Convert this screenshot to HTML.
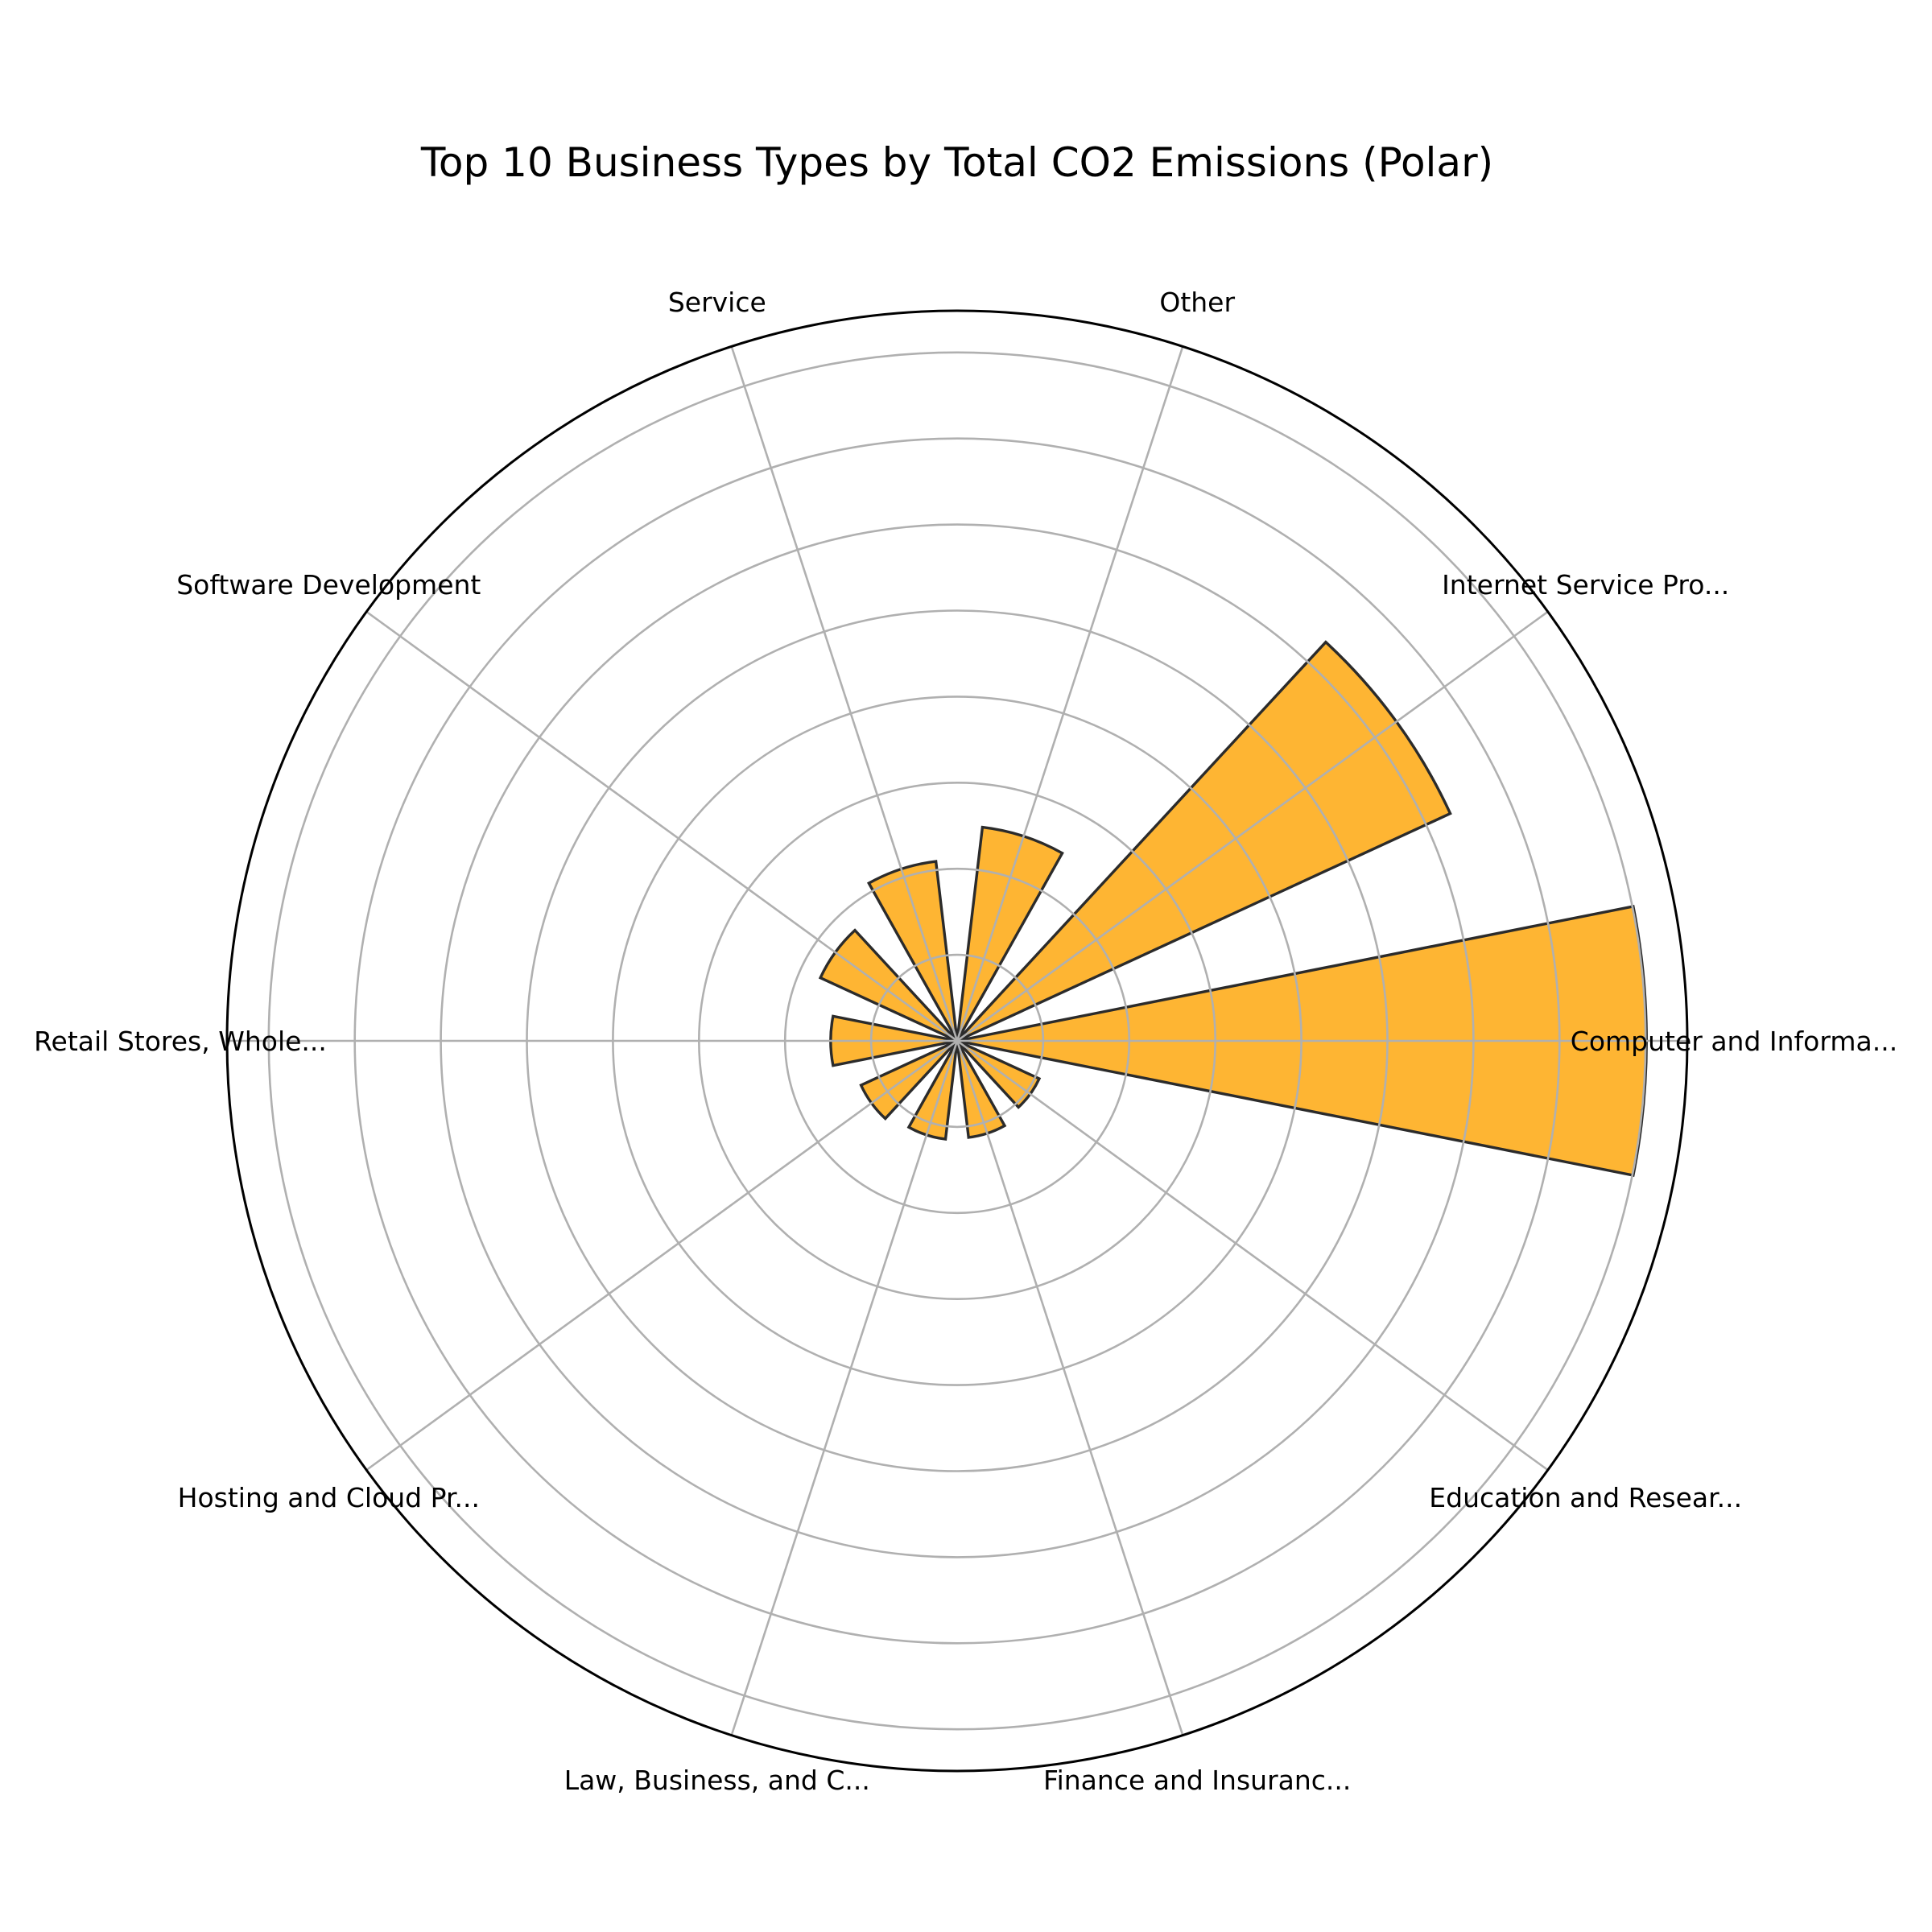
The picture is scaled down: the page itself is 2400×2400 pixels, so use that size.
<!DOCTYPE html>
<html><head><meta charset="utf-8"><style>
html,body{margin:0;padding:0;background:#fff;}
svg{display:block;font-family:"DejaVu Sans","Liberation Sans",sans-serif;}
</style></head><body>
<svg id="chart" width="2400" height="2400" viewBox="0 0 2400 2400" xmlns="http://www.w3.org/2000/svg">
<rect width="2400" height="2400" fill="#fff"/>
<text x="1189" y="219" font-size="50" text-anchor="middle" fill="#000">Top 10 Business Types by Total CO2 Emissions (Polar)</text>
<g id="bars"></g><g id="grid"></g><g id="labels"></g>
</svg>
<script>
const categories = ["Computer and Informa...","Internet Service Pro...","Other","Service","Software Development","Retail Stores, Whole...","Hosting and Cloud Pr...","Law, Business, and C...","Finance and Insuranc...","Education and Resear..."];
const values = [8.01, 6.31, 2.5, 2.1, 1.75, 1.47, 1.23, 1.15, 1.13, 1.05];
const gridTicks = [1,2,3,4,5,6,7,8];

const cx = 1189, cy = 1293, unit = 106.9, R = 907;
const NS = "http://www.w3.org/2000/svg";
function rs(v){return v*unit;}
function angle(i){return i*2*Math.PI/categories.length;}
function pt(a,r){return [cx + r*Math.cos(a), cy - r*Math.sin(a)];}
function mk(tag, attrs, parent){const e=document.createElementNS(NS,tag);for(const k in attrs)e.setAttribute(k,attrs[k]);parent.appendChild(e);return e;}

const bars=document.getElementById('bars'), grid=document.getElementById('grid'), labels=document.getElementById('labels');
const halfW = (2*Math.PI/categories.length)*0.3125;
values.forEach((v,i)=>{
  const a=angle(i), r=rs(v);
  const p1=pt(a-halfW,r), p2=pt(a+halfW,r);
  const d=`M${cx},${cy} L${p1[0]},${p1[1]} A${r},${r} 0 0 0 ${p2[0]},${p2[1]} Z`;
  const el=mk('path',{d:d,fill:'#feb533','stroke':'#2b2b2b','stroke-width':3.4,'stroke-linejoin':'miter'},bars);
  
  
});
gridTicks.forEach(t=>{
  const c=mk('circle',{cx:cx,cy:cy,r:rs(t),fill:'none',stroke:'#b0b0b0','stroke-width':2.6},grid);
  
  
});
categories.forEach((c,i)=>{
  const a=angle(i), p=pt(a,R);
  const l=mk('line',{x1:cx,y1:cy,x2:p[0],y2:p[1],stroke:'#b0b0b0','stroke-width':2.6},grid);
  
  
  const q=pt(a,R+58);
  const t=mk('text',{x:q[0],y:q[1]+12,'font-size':33,'text-anchor':'middle',fill:'#000'},labels);
  t.textContent=c;
  
  
});
const o=mk('circle',{cx:cx,cy:cy,r:R,fill:'none',stroke:'#000','stroke-width':3},grid);


</script>
</body></html>
